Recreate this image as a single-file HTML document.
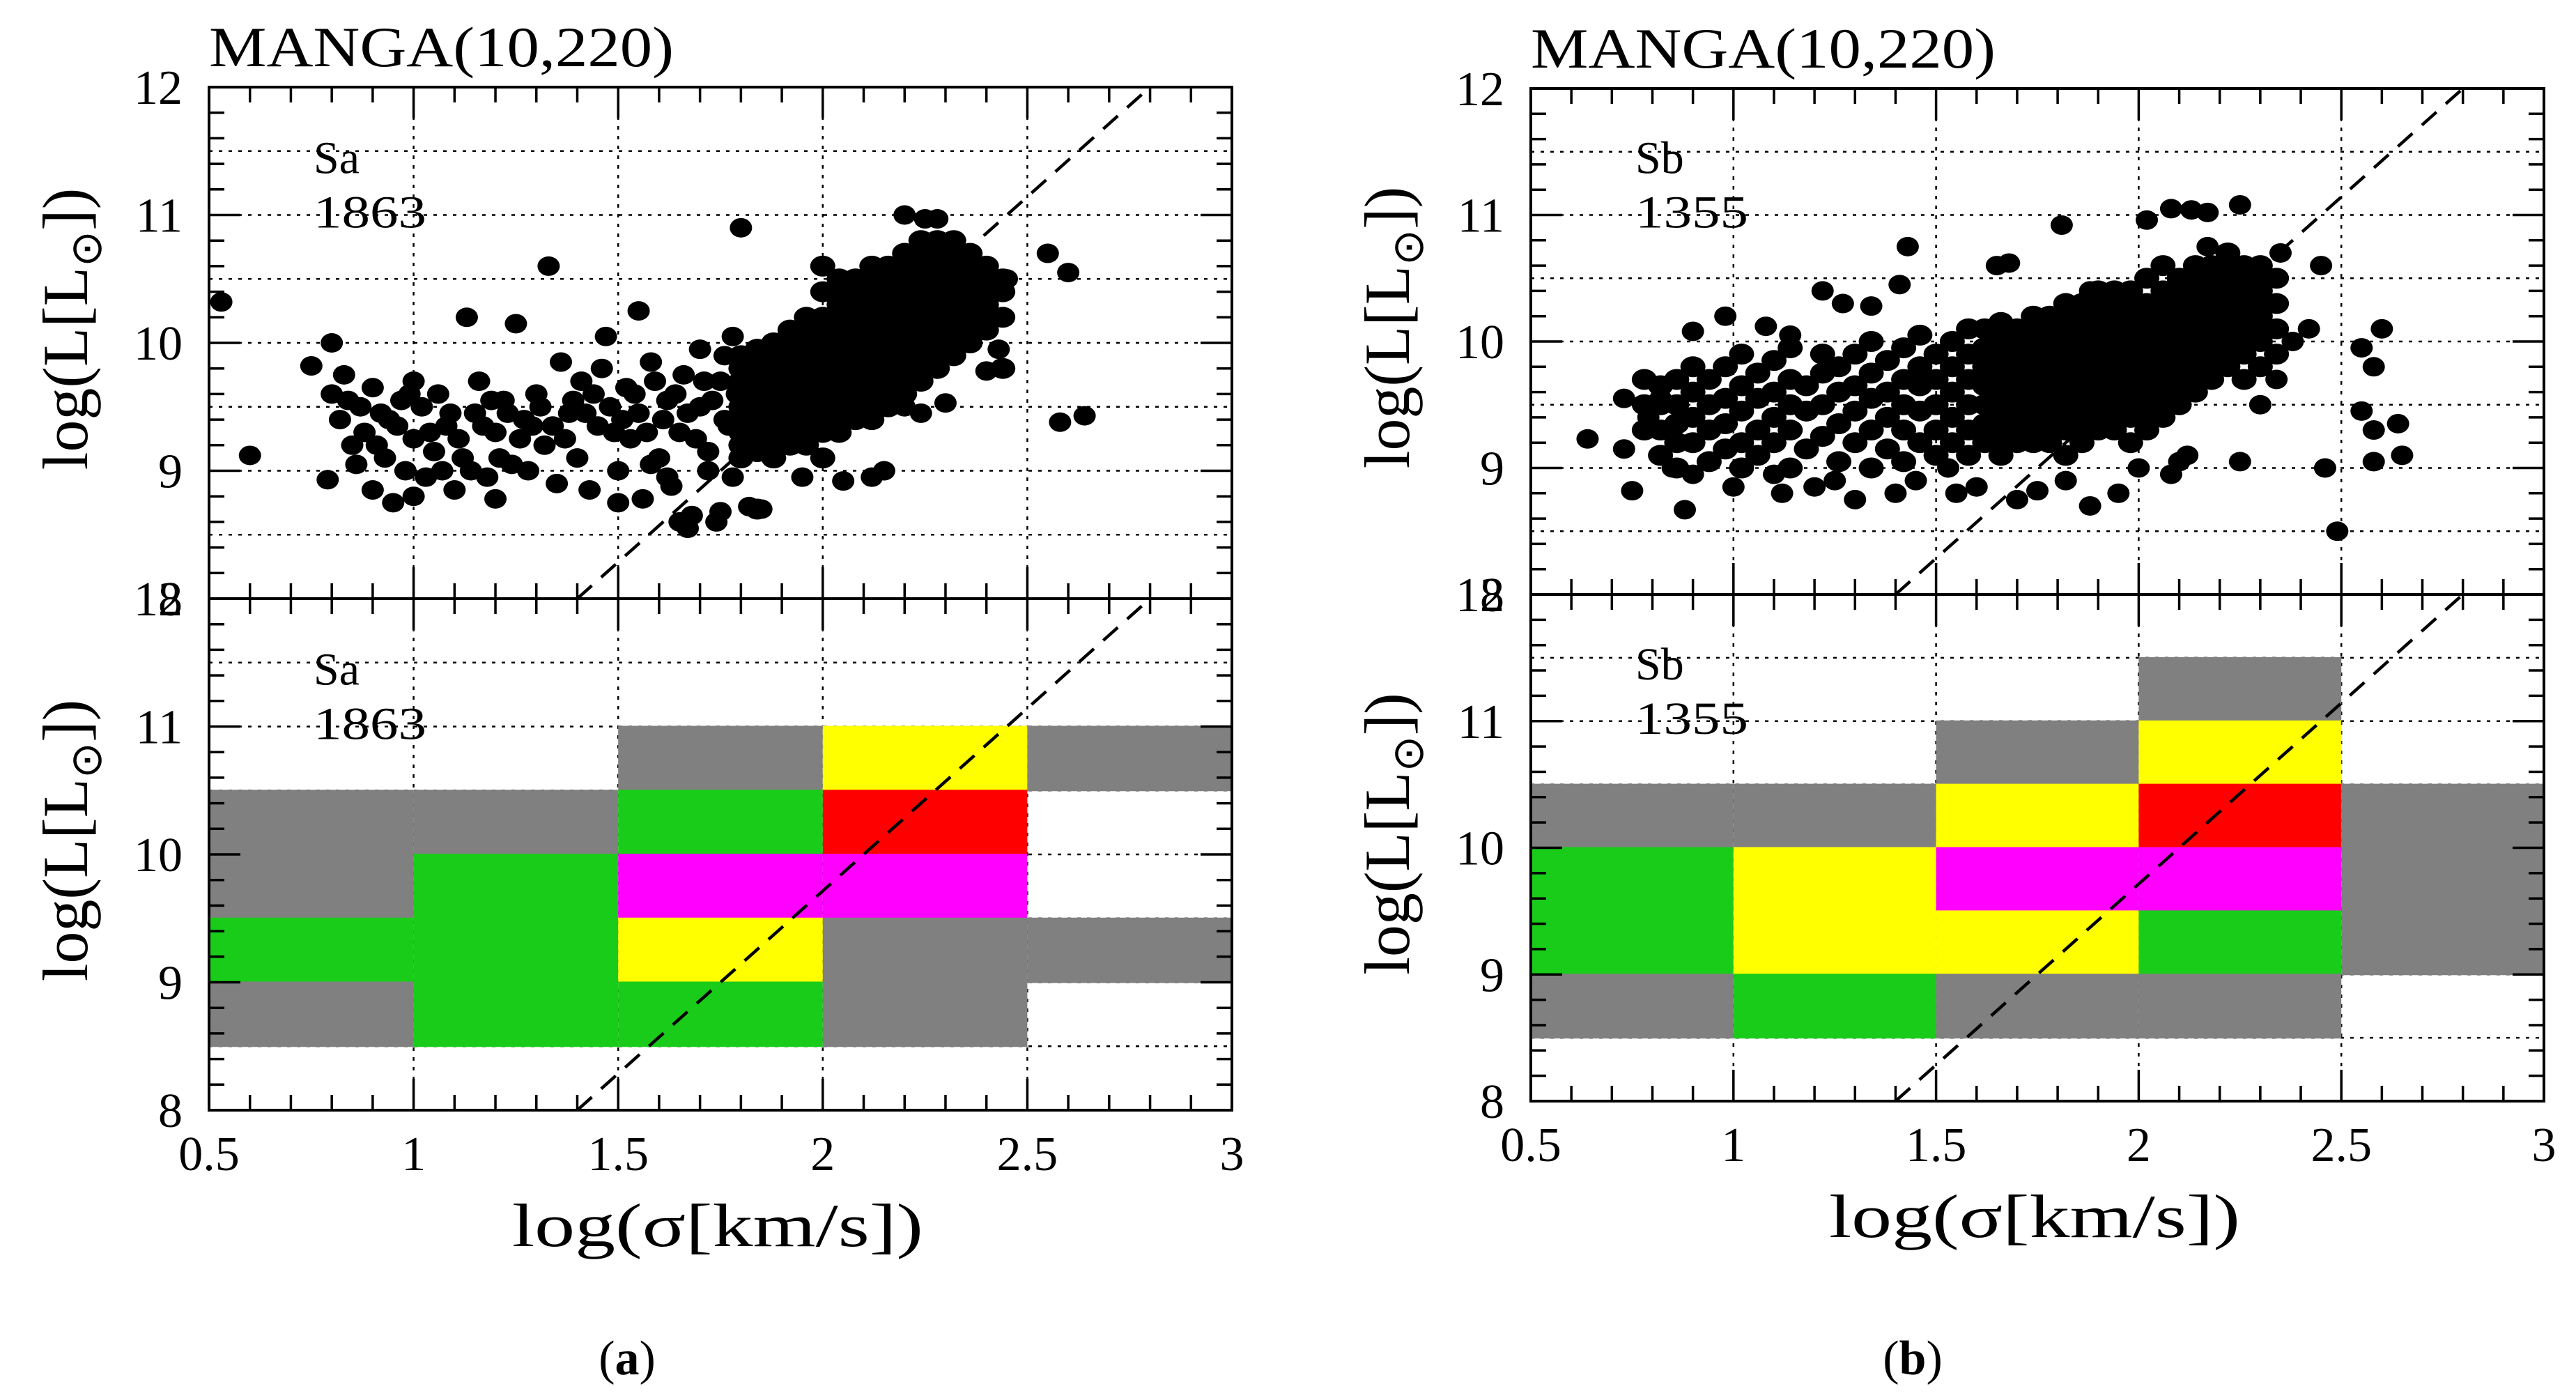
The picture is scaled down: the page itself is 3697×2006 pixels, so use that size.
<!DOCTYPE html>
<html><head><meta charset="utf-8"><style>
html,body{margin:0;padding:0;background:#fff;}
svg{display:block;}
text{font-family:"Liberation Serif",serif;fill:#000;}
</style></head><body>
<svg id="fig" width="3697" height="2006" viewBox="0 0 3697 2006" xmlns="http://www.w3.org/2000/svg"></svg>
<script>
// ---------- DATA ----------
const xTicks = [0.5, 1, 1.5, 2, 2.5, 3];
const xTickLabels = ["0.5", "1", "1.5", "2", "2.5", "3"];
const yTicks = [8, 9, 10, 11, 12];
const yTickLabels = ["8", "9", "10", "11", "12"];

// left panel (Sa) scatter: single points [logSigma, logL]
const saPoints = [[0.53,10.32],[0.6,9.12],[0.75,9.82],[0.79,8.93],[0.8,10.0],[0.8,9.6],[0.82,9.4],[0.83,9.75],[0.85,9.2],[0.86,9.05],[0.88,9.3],[0.9,9.65],[0.9,8.85],[0.92,9.45],[0.93,9.1],[0.95,8.75],[0.96,9.35],[0.98,9.0],[0.99,9.6],[1.0,9.7],[1.0,9.25],[1.0,8.8],[1.02,9.5],[1.03,8.95],[1.05,9.15],[1.06,9.6],[1.08,9.35],[1.1,8.85],[1.12,9.1],[1.13,10.2],[1.15,9.45],[1.16,9.7],[1.18,8.95],[1.2,9.3],[1.2,8.78],[1.22,9.55],[1.24,9.05],[1.25,10.15],[1.27,9.4],[1.28,9.0],[1.3,9.6],[1.32,9.2],[1.33,10.6],[1.35,8.9],[1.36,9.85],[1.38,9.45],[1.4,9.1],[1.41,9.7],[1.43,8.85],[1.45,9.35],[1.46,9.8],[1.47,10.05],[1.48,9.5],[1.5,9.0],[1.5,8.75],[1.52,9.65],[1.53,9.25],[1.55,10.25],[1.55,9.45],[1.56,8.78],[1.58,9.85],[1.6,9.1],[1.62,9.55],[1.63,8.88],[1.65,9.3],[1.66,9.75],[1.68,8.65],[1.7,9.95],[1.7,9.5],[1.72,9.15],[1.74,8.6],[1.75,9.7],[1.77,9.35],[1.78,8.95],[1.8,10.9],
[0.84,9.55],[0.87,9.5],[0.91,9.2],[0.94,9.4],[0.97,9.55],[1.04,9.3],[1.07,9.0],[1.09,9.45],[1.11,9.25],[1.14,9.0],[1.17,9.35],[1.19,9.55],[1.21,9.1],[1.23,9.45],[1.26,9.25],[1.29,9.35],[1.31,9.5],[1.34,9.35],[1.37,9.25],[1.39,9.55],[1.42,9.45],[1.44,9.6],[1.49,9.3],[1.51,9.4],[1.54,9.6],[1.57,9.3],[1.59,9.7],[1.61,9.4],[1.64,9.6],[1.67,9.45],[1.69,9.25],[1.71,9.7],[1.73,9.55],[1.76,9.4],[1.79,9.6],
[2.2,11.0],[2.25,10.97],[2.28,10.97],[2.55,10.7],[2.6,10.55],[2.58,9.38],[2.64,9.43],[2.45,10.5],[2.43,9.95],[2.4,9.78],[2.3,9.53],[2.2,9.65],[2.15,9.0],[2.12,8.95],[2.05,8.92],[1.95,8.95],[1.85,8.7],[1.82,8.72],[1.75,8.68],[1.65,8.6],[1.67,8.55],[2.2,9.5],[2.24,9.45],[1.58,9.05],[1.62,8.95],[1.72,9.0],[1.76,9.9],[1.78,10.05]];
// left panel dense core: [logSigma, [logL values]]
const saCore = [
[1.80,[9.1,9.2,9.3,9.4,9.5,9.6,9.7,9.8,9.9]],
[1.84,[9.15,9.25,9.35,9.45,9.55,9.65,9.75,9.85,9.95,8.7]],
[1.88,[9.1,9.2,9.3,9.4,9.5,9.6,9.7,9.8,9.9,10.0]],
[1.92,[9.2,9.3,9.4,9.5,9.6,9.7,9.8,9.9,10.0,10.1]],
[1.96,[9.2,9.3,9.4,9.5,9.6,9.7,9.8,9.9,10.0,10.1,10.2]],
[2.00,[9.1,9.3,9.4,9.5,9.6,9.7,9.8,9.9,10.0,10.1,10.2,10.4,10.6]],
[2.04,[9.3,9.4,9.5,9.6,9.7,9.8,9.9,10.0,10.1,10.2,10.3,10.4,10.5]],
[2.08,[9.4,9.5,9.6,9.7,9.8,9.9,10.0,10.1,10.2,10.3,10.4,10.5]],
[2.12,[9.4,9.5,9.6,9.7,9.8,9.9,10.0,10.1,10.2,10.3,10.4,10.5,10.6]],
[2.16,[9.5,9.6,9.7,9.8,9.9,10.0,10.1,10.2,10.3,10.4,10.5,10.6]],
[2.20,[9.6,9.7,9.8,9.9,10.0,10.1,10.2,10.3,10.4,10.5,10.6,10.7]],
[2.24,[9.7,9.8,9.9,10.0,10.1,10.2,10.3,10.4,10.5,10.6,10.7,10.8]],
[2.28,[9.8,9.9,10.0,10.1,10.2,10.3,10.4,10.5,10.6,10.7,10.8]],
[2.32,[9.9,10.0,10.1,10.2,10.3,10.4,10.5,10.6,10.7,10.8]],
[2.36,[10.0,10.1,10.2,10.3,10.4,10.5,10.6,10.7]],
[2.40,[10.1,10.2,10.3,10.4,10.5,10.6]],
[2.44,[10.2,10.4,10.5,9.8]]];

// right panel (Sb) scatter
const sbPoints = [[0.64,9.23],[0.73,9.55],[0.73,9.15],[0.75,8.82],[0.79,9.4],[0.82,9.55],[0.88,8.67],[0.9,10.08],[0.98,10.2],[1.08,10.12],[1.14,10.05],[1.22,10.4],[1.27,10.3],[1.34,10.28],[1.41,10.45],[1.43,10.75],[1.65,10.6],[1.68,10.62],[1.81,10.92],[1.88,10.4],[2.02,10.96],[2.08,11.05],[2.13,11.04],[2.17,11.02],[2.25,11.08],[2.17,10.75],[2.35,10.7],[2.45,10.6],[2.42,10.1],[2.38,10.0],[2.55,9.95],[2.6,10.1],[2.58,9.8],[2.55,9.45],[2.58,9.3],[2.58,9.05],[2.65,9.1],[2.64,9.35],[2.46,9.0],[2.49,8.5],[2.25,9.05],
[1.53,9.0],[1.55,8.8],[1.6,8.85],[1.7,8.75],[1.75,8.82],[1.82,8.9],[1.88,8.7],[1.95,8.8],[2.0,9.0],[2.08,8.95],[2.1,9.05],[2.12,9.1],[1.25,8.9],[1.3,8.75],[1.2,8.85],[1.1,8.95],[1.12,8.8],[0.85,9.0],[0.9,8.95],[1.0,8.85],[1.4,8.8],[1.45,8.9],[2.3,9.5],[2.34,9.7]];
const sbCore = [
[0.78,[9.3,9.5,9.7]],[0.82,[9.1,9.3,9.5,9.65]],[0.86,[9.0,9.2,9.35,9.5,9.7]],[0.90,[9.2,9.4,9.6,9.8]],
[0.94,[9.05,9.3,9.5,9.7]],[0.98,[9.15,9.35,9.55,9.8]],[1.02,[9.0,9.2,9.45,9.65,9.9]],[1.06,[9.1,9.3,9.55,9.75]],
[1.10,[9.2,9.4,9.6,9.85]],[1.14,[9.0,9.3,9.5,9.7,9.95]],[1.18,[9.15,9.45,9.65]],[1.22,[9.25,9.5,9.75,9.9]],
[1.26,[9.05,9.35,9.6,9.8]],[1.30,[9.2,9.45,9.65,9.9]],[1.34,[9.0,9.3,9.55,9.75,10.0]],[1.38,[9.15,9.4,9.6,9.85]],
[1.42,[9.05,9.3,9.5,9.7,9.95]],[1.46,[9.2,9.45,9.65,9.8,10.05]],[1.50,[9.1,9.3,9.5,9.7,9.9]],[1.54,[9.2,9.4,9.6,9.8,10.0]],
[1.58,[9.1,9.3,9.5,9.7,9.9,10.1]],[1.62,[9.2,9.35,9.5,9.65,9.8,9.95,10.1]],[1.66,[9.1,9.25,9.4,9.55,9.7,9.85,10.0,10.15]],
[1.70,[9.2,9.3,9.4,9.5,9.6,9.7,9.8,9.9,10.0,10.1]],[1.74,[9.2,9.3,9.4,9.5,9.6,9.7,9.8,9.9,10.0,10.1,10.2]],
[1.78,[9.2,9.3,9.4,9.5,9.6,9.7,9.8,9.9,10.0,10.1,10.2]],[1.82,[9.1,9.3,9.4,9.5,9.6,9.7,9.8,9.9,10.0,10.1,10.2,10.3]],
[1.86,[9.2,9.3,9.4,9.5,9.6,9.7,9.8,9.9,10.0,10.1,10.2,10.3]],[1.90,[9.3,9.4,9.5,9.6,9.7,9.8,9.9,10.0,10.1,10.2,10.3,10.4]],
[1.94,[9.3,9.4,9.5,9.6,9.7,9.8,9.9,10.0,10.1,10.2,10.3,10.4]],[1.98,[9.2,9.4,9.5,9.6,9.7,9.8,9.9,10.0,10.1,10.2,10.3,10.4]],
[2.02,[9.3,9.4,9.5,9.6,9.7,9.8,9.9,10.0,10.1,10.2,10.3,10.5]],[2.06,[9.4,9.5,9.6,9.7,9.8,9.9,10.0,10.1,10.2,10.3,10.4,10.6]],
[2.10,[9.5,9.6,9.7,9.8,9.9,10.0,10.1,10.2,10.3,10.4,10.5]],[2.14,[9.6,9.7,9.8,9.9,10.0,10.1,10.2,10.3,10.4,10.5,10.6]],
[2.18,[9.7,9.8,9.9,10.0,10.1,10.2,10.3,10.4,10.5,10.6]],[2.22,[9.8,9.9,10.0,10.1,10.2,10.3,10.4,10.5,10.6,10.7]],
[2.26,[9.7,9.9,10.0,10.1,10.2,10.3,10.4,10.5,10.6]],[2.30,[9.8,10.0,10.1,10.2,10.3,10.4,10.5,10.6]],[2.34,[9.9,10.1,10.3,10.5]]];

// heatmap cells: [x0, x1, y0, y1, colorKey]
const saCells = [
[0.5,1.0,10.0,10.5,"gray"],[1.0,1.5,10.0,10.5,"gray"],[0.5,1.0,9.5,10.0,"gray"],[1.0,1.5,9.5,10.0,"green"],
[0.5,1.0,9.0,9.5,"green"],[1.0,1.5,9.0,9.5,"green"],[0.5,1.0,8.5,9.0,"gray"],[1.0,1.5,8.5,9.0,"green"],
[1.5,2.0,10.5,11.0,"gray"],[1.5,2.0,10.0,10.5,"green"],[1.5,2.0,9.5,10.0,"magenta"],[1.5,2.0,9.0,9.5,"yellow"],[1.5,2.0,8.5,9.0,"green"],
[2.0,2.5,10.5,11.0,"yellow"],[2.0,2.5,10.0,10.5,"red"],[2.0,2.5,9.5,10.0,"magenta"],[2.0,2.5,9.0,9.5,"gray"],[2.0,2.5,8.5,9.0,"gray"],
[2.5,3.0,10.5,11.0,"gray"],[2.5,3.0,9.0,9.5,"gray"]];
const sbCells = [
[0.5,1.0,10.0,10.5,"gray"],[0.5,1.0,9.0,10.0,"green"],[0.5,1.0,8.5,9.0,"gray"],
[1.0,1.5,10.0,10.5,"gray"],[1.0,1.5,9.0,10.0,"yellow"],[1.0,1.5,8.5,9.0,"green"],
[1.5,2.0,10.5,11.0,"gray"],[1.5,2.0,10.0,10.5,"yellow"],[1.5,2.0,9.5,10.0,"magenta"],[1.5,2.0,9.0,9.5,"yellow"],[1.5,2.0,8.5,9.0,"gray"],
[2.0,2.5,11.0,11.5,"gray"],[2.0,2.5,10.5,11.0,"yellow"],[2.0,2.5,10.0,10.5,"red"],[2.0,2.5,9.5,10.0,"magenta"],[2.0,2.5,9.0,9.5,"green"],[2.0,2.5,8.5,9.0,"gray"],
[2.5,3.0,9.0,10.5,"gray"]];
const dashLine = [[1.4, 8], [2.8, 12]];
const colorMap = {gray:"#808080", green:"#19cc19", yellow:"#ffff00", red:"#ff0000", magenta:"#ff00ff"};

// ---------- DRAW ----------
const NS = "http://www.w3.org/2000/svg";
const svg = document.getElementById("fig");
function mk(tag, attrs, parent) {
  const e = document.createElementNS(NS, tag);
  for (const k in attrs) e.setAttribute(k, attrs[k]);
  (parent || svg).appendChild(e);
  return e;
}
function txt(str, attrs, parent) { const t = mk("text", attrs, parent); t.textContent = str; return t; }

function drawPanel(o) {
  const X0 = o.x0, X1 = o.x1;
  const sx = v => X0 + (v - 0.5) / 2.5 * (X1 - X0);
  const g = mk("g", {});
  
  
  [["top", o.yt0, o.yt1], ["bottom", o.yb0, o.yb1]].forEach(([which, Yt, Yb]) => {
    const sy = v => Yb - (v - 8) / 4 * (Yb - Yt);
    const sub = mk("g", {}, g);
    
    
    // grid
    const grid = mk("g", {stroke: "#000", "stroke-width": 2.5, "stroke-dasharray": "5,9"}, sub);
    
    
    [1, 1.5, 2, 2.5].forEach(v => mk("line", {x1: sx(v), x2: sx(v), y1: Yt, y2: Yb}, grid));
    [8.5, 9, 9.5, 10, 10.5, 11, 11.5].forEach(v => mk("line", {x1: X0, x2: X1, y1: sy(v), y2: sy(v)}, grid));
    // cells over grid
    if (which === "bottom") {
      o.cells.forEach(c => {
        const r = mk("rect", {x: sx(c[0]), y: sy(c[3]) - 1, width: sx(c[1]) - sx(c[0]), height: sy(c[2]) - sy(c[3]) + 2, fill: colorMap[c[4]]}, sub);
        
        
      });
    }
    // scatter
    if (which === "top") {
      const sg = mk("g", {fill: "#000"}, sub);
      
      
      o.points.forEach(p => {
        const c = mk("ellipse", {cx: sx(p[0]), cy: sy(p[1]), rx: 16, ry: 14}, sg);
        
        
      });
      o.core.forEach(col => col[1].forEach(l => {
        const c = mk("ellipse", {cx: sx(col[0]), cy: sy(l), rx: 18, ry: 15}, sg);
        
        
      }));
    }
    // dashed line
    const dl = mk("line", {x1: sx(dashLine[0][0]), y1: sy(dashLine[0][1]), x2: sx(dashLine[1][0]), y2: sy(dashLine[1][1]), stroke: "#000", "stroke-width": 4.5, "stroke-dasharray": "28,18"}, sub);
    
    
    // frame
    const fr = mk("rect", {x: X0, y: Yt, width: X1 - X0, height: Yb - Yt, fill: "none", stroke: "#000", "stroke-width": 4}, sub);
    
    
    // ticks
    const tk = mk("g", {stroke: "#000", "stroke-width": 3.5}, sub);
    
    
    for (let i = 0; i <= 25; i++) {
      const v = 0.5 + i * 0.1, L = (i % 5 === 0) ? 45 : 22, x = sx(v);
      mk("line", {x1: x, x2: x, y1: Yb, y2: Yb - L}, tk);
      mk("line", {x1: x, x2: x, y1: Yt, y2: Yt + L}, tk);
    }
    for (let i = 0; i <= 20; i++) {
      const v = 8 + i * 0.2, L = (i % 5 === 0) ? 45 : 22, y = sy(v);
      mk("line", {x1: X0, x2: X0 + L, y1: y, y2: y}, tk);
      mk("line", {x1: X1, x2: X1 - L, y1: y, y2: y}, tk);
    }
    // y tick labels
    yTicks.forEach((v, i) => {
      const t = txt(yTickLabels[i], {x: X0 - 38, y: sy(v) + 24, "font-size": 70, "text-anchor": "end"}, sub);
      
      
    });
    // y axis title
    const cy = (Yt + Yb) / 2 - 20;
    const yt = mk("text", {x: 0, y: 0, "font-size": 92, transform: `translate(${X0 - 175},${cy}) rotate(-90)`, "text-anchor": "middle"}, sub);
    const tsa = mk("tspan", {}, yt); tsa.textContent = "log(L[L";
    const tsb = mk("tspan", {"font-size": 62, dy: 20}, yt); tsb.textContent = "\u2299";
    const tsc = mk("tspan", {dy: -20}, yt); tsc.textContent = "])";
    
    
    // sample label
    const s1 = txt(o.label, {x: X0 + 150, y: sy(11.0) - 60, "font-size": 66}, sub);
    
    
    const s2 = txt(o.count, {x: X0 + 150, y: sy(11.0) + 18, "font-size": 66, textLength: 162, lengthAdjust: "spacingAndGlyphs"}, sub);
    
    
  });
  // x tick labels
  xTicks.forEach((v, i) => {
    const t = txt(xTickLabels[i], {x: sx(v), y: o.yb1 + 86, "font-size": 70, "text-anchor": "middle"}, g);
    
    
  });
  const xt = txt("log(\u03c3[km/s])", {x: (X0 + X1) / 2 - 4, y: o.yb1 + 195, "font-size": 88, "text-anchor": "middle", textLength: 590, lengthAdjust: "spacingAndGlyphs"}, g);
  
  
  const tt = txt("MANGA(10,220)", {x: X0, y: o.yt0 - 30, "font-size": 82, textLength: 667, lengthAdjust: "spacingAndGlyphs"}, g);
  
  
  const cap = mk("text", {x: o.capX, y: 1972, "font-size": 70, "text-anchor": "middle"}, g);
  const c1 = mk("tspan", {}, cap); c1.textContent = "(";
  const c2 = mk("tspan", {"font-weight": "bold"}, cap); c2.textContent = o.cap;
  const c3 = mk("tspan", {}, cap); c3.textContent = ")";
  
  
}

drawPanel({name: "panel-a-sa", x0: 300, x1: 1768, yt0: 125, yt1: 859, yb0: 859, yb1: 1593,
  points: saPoints, core: saCore, cells: saCells, label: "Sa", count: "1863", cap: "a", capX: 900});
drawPanel({name: "panel-b-sb", x0: 2197, x1: 3651, yt0: 127, yt1: 853, yb0: 853, yb1: 1580,
  points: sbPoints, core: sbCore, cells: sbCells, label: "Sb", count: "1355", cap: "b", capX: 2745});
</script>
</body></html>
